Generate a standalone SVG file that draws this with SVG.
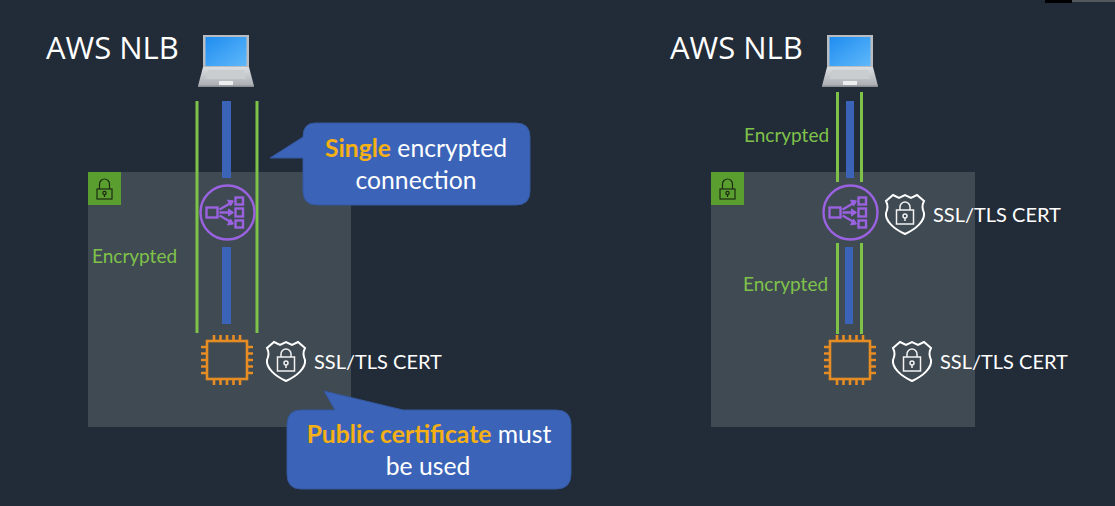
<svg xmlns="http://www.w3.org/2000/svg" width="1115" height="506" viewBox="0 0 1115 506">
<style>
.title{font:31px "Open Sans","Liberation Sans",sans-serif;fill:#fff}
.enc{font:19px Lato,"Noto Sans",sans-serif;fill:#7fc24a}
.cert{font:20px Lato,"Noto Sans",sans-serif;fill:#fff}
.call{font:24.700px Lato,"Noto Sans",sans-serif;fill:#fff;text-anchor:middle}
.hl{fill:#f5b016;font-weight:700}
.panel{fill:#3f4a52}
.lockbg{fill:#5a9e2f}
.lk{fill:none;stroke:#1d2b14;stroke-width:1.200}
.green{stroke:#7fc24a;stroke-width:3;fill:none}
.blue{fill:#3b64b8}
.bubble{fill:#3b64b8;stroke:#34589f;stroke-width:1}
.nlb{fill:none;stroke:#9a62e0;stroke-width:2.400}
.chip{fill:none;stroke:#e68c24;stroke-width:2.600}
.sh{fill:none;stroke:#fff;stroke-width:2}
.sh2{fill:none;stroke:#f2f2f2;stroke-width:1.500}
</style>
<defs>
<linearGradient id="scr" x1="0" y1="0" x2="1" y2="1"><stop offset="0" stop-color="#1f8df0"/><stop offset="1" stop-color="#5fb8fa"/></linearGradient>
<linearGradient id="base" x1="0" y1="0" x2="0" y2="1"><stop offset="0" stop-color="#dcdfe2"/><stop offset="1" stop-color="#a9adb1"/></linearGradient>
<g id="laptop">
<rect x="-23" y="-29" width="46" height="33" fill="#b9bdc1"/>
<rect x="-20.500" y="-27" width="41" height="29" fill="url(#scr)"/>
<path d="M-23 3H23L28 22H-28Z" fill="url(#base)"/>
<path d="M-18 6H18L20 15H-20Z" fill="#c9cdd0"/>
<rect x="-7" y="17" width="14" height="4" fill="#eceef0"/>
<rect x="-28" y="21.500" width="56" height="1.500" fill="#8b8f93"/>
</g>
<g id="lockicon">
<rect x="-7.500" y="0" width="15" height="10" class="lk"/>
<path d="M-5 0V-5A5 5 0 0 1 5 -5V0" class="lk"/>
<circle cy="4" r="1.700" class="lk"/>
<path d="M0 5.700V8" class="lk"/>
</g>
<g id="nlbicon">
<circle r="27" class="nlb"/>
<rect x="-21" y="-5" width="11" height="10" class="nlb"/>
<rect x="8" y="-15" width="7.500" height="7" class="nlb"/>
<rect x="8" y="-4" width="7.500" height="8" class="nlb"/>
<rect x="8" y="8" width="7.500" height="7" class="nlb"/>
<path d="M-8 -3L5 -10.500M-8 0H5M-8 3L5 10.500" class="nlb"/>
<path d="M6 -11.500L0 -12.500L3 -6.500ZM6 0L1 -3.500V3.500ZM6 11.500L0 12.500L3 6.500Z" fill="#9a62e0" stroke="#9a62e0"/>
</g>
<g id="chipicon">
<rect x="-20" y="-19" width="40" height="38" class="chip"/>
<path d="M-13 -19v-6M-6.500 -19v-6M0 -19v-6M6.500 -19v-6M13 -19v-6M-13 19v6M-6.500 19v6M0 19v6M6.500 19v6M13 19v6M-20 -13h-6M-20 -6.500h-6M-20 0h-6M-20 6.500h-6M-20 13h-6M20 -13h6M20 -6.500h6M20 0h6M20 6.500h6M20 13h6" class="chip"/>
</g>
<g id="shield">
<path d="M-12 -19L-6 -16L0 -19L6 -16L12 -19L19 -13C16.500 -8 17.500 -5 19 -1C20 7 11 15 0 20C-11 15 -20 7 -19 -1C-17.500 -5 -16.500 -8 -19 -13Z" class="sh"/>
<rect x="-8.500" y="-4" width="17" height="14" class="sh2"/>
<path d="M-5 -4V-7A5 5 0 0 1 5 -7V-4" class="sh2"/>
<circle cy="2" r="2" class="sh2"/>
<path d="M0 4V7" class="sh2"/>
</g>
</defs>
<rect width="1115" height="506" fill="#222b38"/>
<rect x="1045" y="0" width="27" height="3" fill="#000"/>
<rect x="1072" y="0" width="43" height="2" fill="#55585a"/>

<g id="left-panel"><rect class="panel" x="88" y="172" width="263" height="255"/><rect class="lockbg" x="88" y="172" width="33" height="33"/><use href="#lockicon" x="104.500" y="189"/></g>
<g id="right-panel"><rect class="panel" x="711" y="172" width="264" height="255"/><rect class="lockbg" x="711" y="172" width="33" height="33"/><use href="#lockicon" x="727.500" y="189"/></g>

<g id="connectors">
<rect class="blue" x="222" y="101" width="9" height="77"/>
<rect class="blue" x="222" y="247" width="9" height="77"/>
<path class="green" d="M197 101V333M257 101V333"/>
<rect class="blue" x="846" y="101" width="8" height="77"/>
<rect class="blue" x="845" y="247" width="8" height="77"/>
<path class="green" d="M837.500 92V182M861.500 92V182M837.500 243V334M861.500 243V334"/>
</g>

<g id="left-title"><text class="title" x="46" y="59">AWS NLB</text></g>
<g id="left-client"><use href="#laptop" x="226" y="64"/></g>
<g id="left-nlb"><use href="#nlbicon" x="227.500" y="212.500"/></g>
<g id="left-encrypted"><text class="enc" x="92" y="263">Encrypted</text></g>
<g id="left-ec2"><use href="#chipicon" x="227" y="360"/></g>
<g id="left-cert"><use href="#shield" x="286" y="361"/><text class="cert" x="314" y="369">SSL/TLS CERT</text></g>

<g id="callout-single">
<path class="bubble" d="M315 123H516Q530 123 530 137V191Q530 205 516 205H317Q303 205 303 191V158H270L303 137Q303 123 315 123Z"/>
<text class="call" x="416" y="157"><tspan class="hl">Single</tspan> encrypted</text>
<text class="call" x="416" y="189">connection</text>
</g>
<g id="callout-public">
<path class="bubble" d="M324 391L403 410H556Q571 410 571 425V474Q571 489 556 489H301Q287 489 287 474V425Q287 410 301 410H335Z"/>
<text class="call" x="429" y="443"><tspan class="hl">Public certificate</tspan> must</text>
<text class="call" x="428" y="475">be used</text>
</g>

<g id="right-title"><text class="title" x="670" y="59">AWS NLB</text></g>
<g id="right-client"><use href="#laptop" x="850" y="64"/></g>
<g id="right-nlb"><use href="#nlbicon" x="850.500" y="212.500"/></g>
<g id="right-cert-top"><use href="#shield" x="905" y="214"/><text class="cert" x="933" y="222">SSL/TLS CERT</text></g>
<g id="right-encrypted-top"><text class="enc" x="744" y="142">Encrypted</text></g>
<g id="right-encrypted-bottom"><text class="enc" x="743" y="291">Encrypted</text></g>
<g id="right-ec2"><use href="#chipicon" x="850" y="360"/></g>
<g id="right-cert-bottom"><use href="#shield" x="912" y="361"/><text class="cert" x="940" y="369">SSL/TLS CERT</text></g>
</svg>
